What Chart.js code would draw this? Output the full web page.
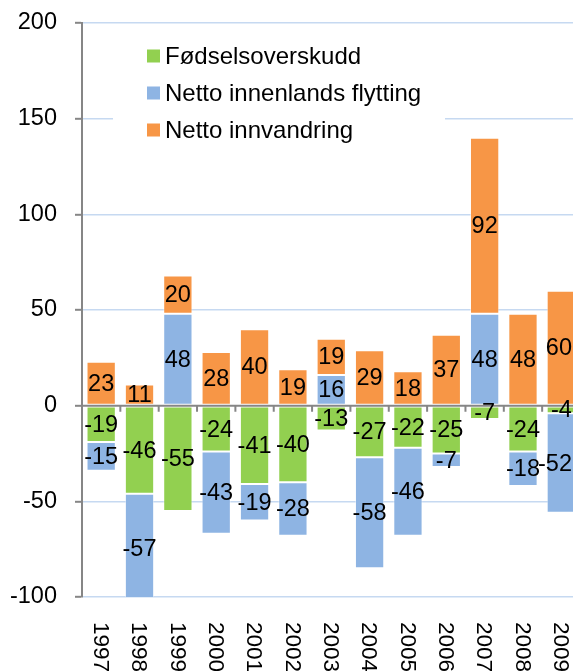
<!DOCTYPE html>
<html><head><meta charset="utf-8">
<script src="https://cdn.jsdelivr.net/npm/chart.js@4.4.1/dist/chart.umd.min.js"></script>
<style>
html,body{margin:0;padding:0;overflow:hidden;background:#fff;}
#wrap{position:absolute;left:0;top:0;width:600px;height:700px;}
</style></head><body>
<div id="wrap"><canvas id="c"></canvas></div>
<script>
const years = ['1997','1998','1999','2000','2001','2002','2003','2004','2005','2006','2007','2008','2009'];
const fodselsoverskudd = [-19,-46,-55,-24,-41,-40,-13,-27,-22,-25,-7,-24,-4];
const innenlandsFlytting = [-15,-57,48,-43,-19,-28,16,-58,-46,-7,48,-18,-52];
const innvandring = [23,11,20,28,40,19,19,29,18,37,92,48,60];
const seriesNames = ['Fødselsoverskudd','Netto innenlands flytting','Netto innvandring'];
const seriesColors = ['#92D050','#8EB4E3','#F79646'];
const yMin = -100, yMax = 200, yStep = 50;

const FONT = "'Liberation Sans', Arial, sans-serif";

const customPlugin = {
  id: 'custom',
  beforeDatasetsDraw(chart) {
    const ctx = chart.ctx;
    ctx.save();
    ctx.fillStyle = '#ffffff';
    ctx.fillRect(113, 28, 332, 176);
    const rows = [56, 93, 130];
    ctx.font = '24px ' + FONT;
    ctx.textAlign = 'left';
    ctx.textBaseline = 'middle';
    chart.data.datasets.forEach((ds, i) => {
      ctx.fillStyle = ds.backgroundColor;
      ctx.fillRect(147, rows[i] - 6.5, 13, 13);
      ctx.fillStyle = '#000';
      ctx.fillText(ds.label, 165, rows[i] + 1);
    });
    ctx.restore();
  },
  afterDatasetsDraw(chart) {
    const ctx = chart.ctx;
    const xs = chart.scales.x, ys = chart.scales.y;
    const area = chart.chartArea;
    const y0 = ys.getPixelForValue(0);
    const spacing = xs.getPixelForValue(1) - xs.getPixelForValue(0);
    ctx.save();
    ctx.strokeStyle = '#868686';
    ctx.lineWidth = 2;
    ctx.beginPath();
    ctx.moveTo(area.left, y0);
    ctx.lineTo(area.right, y0);
    for (let i = 0; i < years.length; i++) {
      const bx = xs.getPixelForValue(i) + spacing / 2;
      ctx.moveTo(bx, y0);
      ctx.lineTo(bx, y0 + 6);
    }
    ctx.stroke();
    ctx.font = '23.5px ' + FONT;
    ctx.fillStyle = '#000';
    ctx.textAlign = 'center';
    ctx.textBaseline = 'middle';
    const maxX = window.innerWidth;
    chart.data.datasets.forEach((ds, di) => {
      const meta = chart.getDatasetMeta(di);
      meta.data.forEach((el, i) => {
        const v = ds.data[i];
        const txt = String(v);
        const w = ctx.measureText(txt).width;
        let x = el.x;
        if (x + w / 2 > maxX - 1) x = maxX - 1 - w / 2;
        const y = (el.y + el.base) / 2;
        ctx.fillText(txt, x, y + 1);
      });
    });
    ctx.font = '22.5px ' + FONT;
    ctx.textAlign = 'left';
    ctx.textBaseline = 'middle';
    years.forEach((lab, i) => {
      const x = xs.getPixelForValue(i) - 1;
      ctx.save();
      ctx.translate(x, area.bottom + 25);
      ctx.rotate(Math.PI / 2);
      ctx.fillText(lab, 0, 0);
      ctx.restore();
    });
    ctx.restore();
  }
};

new Chart(document.getElementById('c'), {
  type: 'bar',
  data: {
    labels: years,
    datasets: [
      { label: seriesNames[0], data: fodselsoverskudd, backgroundColor: seriesColors[0], borderColor: 'rgba(255,255,255,0.45)', borderWidth: 1, borderSkipped: false },
      { label: seriesNames[1], data: innenlandsFlytting, backgroundColor: seriesColors[1], borderColor: 'rgba(255,255,255,0.45)', borderWidth: 1, borderSkipped: false },
      { label: seriesNames[2], data: innvandring, backgroundColor: seriesColors[2], borderColor: 'rgba(255,255,255,0.45)', borderWidth: 1, borderSkipped: false }
    ]
  },
  options: {
    responsive: true,
    maintainAspectRatio: false,
    animation: false,
    events: [],
    layout: { padding: { left: 0, right: 19.5, top: 23, bottom: 0 } },
    categoryPercentage: 1,
    barPercentage: 0.764,
    plugins: { legend: { display: false }, tooltip: { enabled: false } },
    scales: {
      x: {
        stacked: true,
        grid: { display: false },
        border: { display: false },
        ticks: { display: false },
        afterFit(s) { s.height = 103; s.paddingLeft = 0; s.paddingRight = 0; }
      },
      y: {
        stacked: true,
        min: yMin, max: yMax,
        ticks: { stepSize: yStep, color: '#000', padding: 18, font: { family: FONT, size: 23.5 } },
        grid: {
          color: (c) => (c.tick && c.tick.value === 0) ? 'rgba(0,0,0,0)' : '#C6D9F1',
          lineWidth: 1.6,
          tickLength: 7,
          tickColor: '#868686',
          tickWidth: 2
        },
        border: { color: '#868686', width: 2 },
        afterFit(s) { s.width = 82; s.paddingTop = 0; s.paddingBottom = 0; }
      }
    }
  },
  plugins: [customPlugin]
});
</script>
</body></html>
